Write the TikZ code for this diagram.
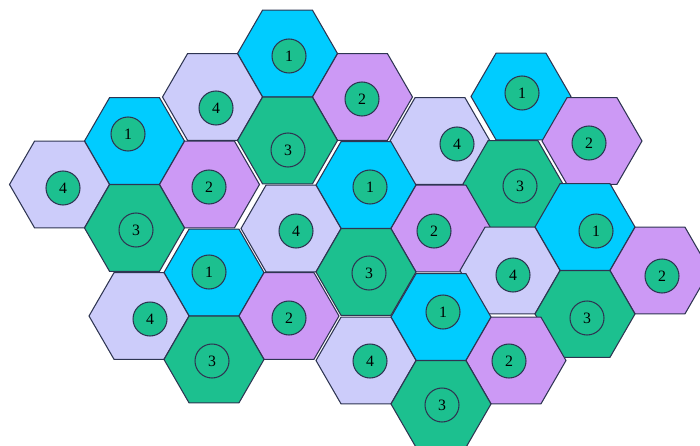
\documentclass[tikz,border=0pt]{standalone}
\usepackage{fontspec}
\setmainfont{Liberation Serif}
\usetikzlibrary{shapes.geometric}
\definecolor{cellone}{HTML}{00CCFF}
\definecolor{celltwo}{HTML}{CC99F5}
\definecolor{cellthree}{HTML}{1CC08F}
\definecolor{cellfour}{HTML}{CCCCFA}
\definecolor{edgec}{HTML}{2E3552}
\def\hd{2cm}
\def\nd{0.68cm}
\tikzset{
  hexc/.style={regular polygon,regular polygon sides=6,minimum size=\hd,
    inner sep=0pt,outer sep=0pt,draw=edgec,line width=0.6pt},
  numc/.style={circle,fill=cellthree,draw=edgec,line width=0.6pt,
    minimum size=\nd,inner sep=0pt,font=\small}
}
\newcommand{\cell}[7]{%
  \node[hexc,fill=#4] (#1) at (#2,#3) {};
  \node[numc] (#1n) at (#6,#7) {#5};
}

\begin{document}
\begin{tikzpicture}[x=0.02cm,y=-0.02cm]
\useasboundingbox (0,0) rectangle (700,446);

% ===================== cluster A (top) ==============================
\cell{a1}{287.5}{53.5}{cellone}{1}{289}{56}
\cell{a4}{212.5}{97}{cellfour}{4}{216}{108}
\cell{a2}{362.5}{97}{celltwo}{2}{362}{99}
\cell{a3}{287.5}{140.5}{cellthree}{3}{288}{150}

% ===================== cluster B (left) =============================
\cell{b1}{134.5}{141}{cellone}{1}{128}{134}
\cell{b4}{59.5}{184.5}{cellfour}{4}{63}{188}
\cell{b2}{209.5}{184.5}{celltwo}{2}{209}{187}
\cell{b3}{134.5}{228}{cellthree}{3}{136}{230}

% ===================== cluster C (upper right) ======================
\cell{c1}{521}{96.5}{cellone}{1}{522}{93}
\cell{c4}{440}{141}{cellfour}{4}{457}{144}
\cell{c2}{592}{141}{celltwo}{2}{589}{143}
\cell{c3}{513}{184}{cellthree}{3}{520}{186}

% ===================== cluster D (middle) ===========================
\cell{d1}{366}{185}{cellone}{1}{370}{187}
\cell{d4}{291}{228.5}{cellfour}{4}{296}{231}
\cell{d2}{441}{228.5}{celltwo}{2}{434}{231}
\cell{d3}{366}{272}{cellthree}{3}{369}{273}

% ===================== cluster E (lower left) =======================
\cell{e1}{214}{272.5}{cellone}{1}{209}{272}
\cell{e4}{139}{316}{cellfour}{4}{150}{319}
\cell{e2}{289}{316}{celltwo}{2}{289}{318}
\cell{e3}{214}{359.5}{cellthree}{3}{212}{361}

% ===================== cluster F (right) ============================
\cell{f1}{585}{227}{cellone}{1}{596}{231}
\cell{f4}{510}{270.5}{cellfour}{4}{513}{275}
\cell{f2}{660}{270.5}{celltwo}{2}{662}{276}
\cell{f3}{585}{314}{cellthree}{3}{587}{318}

% ===================== cluster G (bottom) ===========================
\cell{g1}{441}{317}{cellone}{1}{443}{312}
\cell{g4}{366}{360.5}{cellfour}{4}{370}{361}
\cell{g2}{516}{360.5}{celltwo}{2}{509}{361}
\cell{g3}{441}{404}{cellthree}{3}{442}{405}

\end{tikzpicture}
\end{document}
